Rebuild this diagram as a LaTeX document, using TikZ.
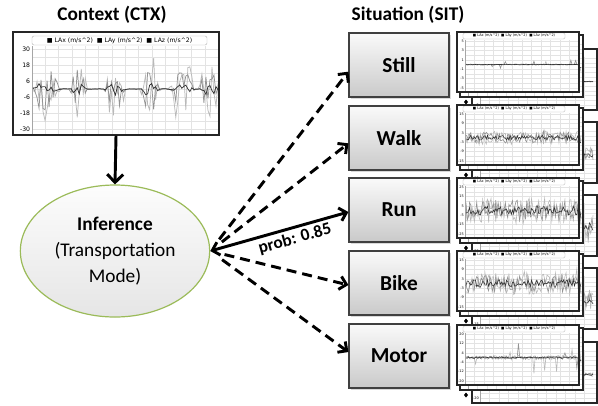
\documentclass[tikz,border=0pt]{standalone}
\usepackage{fontspec}
\setmainfont{Carlito}
\newfontfamily\chartfont{DejaVu Sans}
\usetikzlibrary{arrows.meta,shapes.geometric,shadows}
\definecolor{olivegreen}{HTML}{9BBB59}

\newcommand\minichart[8]{%
 \begin{scope}[shift={(#1,#2)}]
  \fill[white] (0,0) rectangle (#3,#4);
  \foreach \gx in {8,17.5,...,120} \draw[gridline] (\gx,8) -- (\gx,#4-1);
  \foreach \gy in {9,13.7,...,57} \draw[gridline] (8,\gy) -- (#3,\gy);
  \draw[gray!70,line width=0.25pt] (8,8) -- (8,#4-1);
  \draw[gray!60,line width=0.25pt,rounded corners=1pt,fill=white] (6,1) rectangle (108,7);
  \node[font=\chartfont\fontsize{2.6}{3}\selectfont,inner sep=0] at (57,4)
   {■ LAx (m/s\textasciicircum{}2)\ \ ■ LAy (m/s\textasciicircum{}2)\ \ ■ LAz (m/s\textasciicircum{}2)};
  \foreach \lab [count=\i from 0] in {#5}
   \node[anchor=east,inner sep=0.3pt,font=\chartfont\fontsize{2.6}{3}\selectfont] at (7.5,{9+9.4*\i}) {\lab};
  \begin{scope}
   \clip (8.3,8) rectangle (#3,#4-1);
   \pgfmathsetseed{#8}
   \draw[gray!55,line width=0.45pt] plot[domain=9:121,samples=95] (\x,{32.5+#6*rand+#7*(rnd<0.05)*rand});
   \draw[gray!85,line width=0.45pt] plot[domain=9:121,samples=95] (\x,{32.5+0.8*#6*rand+#7*(rnd<0.04)*rand});
   \draw[black!80,line width=0.45pt] plot[domain=9:121,samples=95] (\x,{32.5+0.35*#6*rand});
  \end{scope}
  \draw[black!85,line width=0.9pt] (0,0) rectangle (#3,#4);
 \end{scope}}

\newcommand\chartstack[6]{%
 \minichart{472}{#1+17}{125}{61}{#2}{#3}{#4}{#5}
 \minichart{460}{#1+3}{123}{62}{#2}{#3}{#4}{#5+7}
 \fill (466,#1+67.5) -- (468,#1+70) -- (466,#1+72.5) -- (464,#1+70) -- cycle;
 \minichart{457}{#1}{122}{60}{#2}{#3}{#4}{#6}}

\begin{document}
\begin{tikzpicture}[x=0.75pt,y=-0.75pt,
 declare function={bu(\u,\c,\w)=min(1,1.8*max(0,1-abs(\u-\c)/\w));
  env(\u)=bu(\u,46,14)+bu(\u,78,9)+bu(\u,115,11)+bu(\u,150,10)+bu(\u,182,13)+bu(\u,209,10);},
 gridline/.style={gray!22,line width=0.3pt},
 title/.style={font=\bfseries\fontsize{14.5}{17}\selectfont,inner sep=0},
 sitbox/.style={rectangle,draw=black!75,line width=0.9pt,top color=gray!4,bottom color=gray!42,
  minimum width=75pt,minimum height=48pt,font=\bfseries\fontsize{16}{18}\selectfont,
  drop shadow={shadow xshift=1.2pt,shadow yshift=-1.2pt,opacity=0.3}},
 arr/.style={line width=2.2pt,-{Straight Barb[length=5pt,width=10pt]}},
 darr/.style={arr,dash pattern=on 7.5pt off 4.5pt,shorten <=11pt},
 biarr/.style={line width=2.2pt,{Straight Barb[length=5pt,width=10pt]}-{Straight Barb[length=5pt,width=10pt]}}]
\useasboundingbox (0,0) rectangle (598,405);

% titles
\node[title] (ctxt) at (112,15) {Context (CTX)};
\node[title] (sitt) at (408,15) {Situation (SIT)};

% context chart
\fill[white] (13,32) rectangle (219,135);
\foreach \gx in {32,45.3,...,219} \draw[gridline] (\gx,46) -- (\gx,134);
\foreach \gy in {49,57,...,129} \draw[gridline] (32,\gy) -- (219,\gy);
\draw[gray!70,line width=0.3pt] (32,46) -- (32,134);
\draw[gray!60,line width=0.3pt,rounded corners=1.5pt] (32,36) rectangle (207,45);
\node[font=\chartfont\fontsize{4.6}{5}\selectfont,inner sep=0] (leg) at (119.5,40.5)
 {■ LAx (m/s\textasciicircum{}2)\ \ ■ LAy (m/s\textasciicircum{}2)\ \ ■ LAz (m/s\textasciicircum{}2)};
\foreach \lab [count=\i from 0] in {30,18,6,-6,-18,-30}
 \node[anchor=east,inner sep=0.5pt,font=\chartfont\fontsize{4.6}{5}\selectfont] at (31,{49+16*\i}) {\lab};
\begin{scope}
 \clip (32.3,46) rectangle (219,134);
 \pgfmathsetseed{11}
 \draw[gray!55,line width=0.55pt] plot[domain=33:218,samples=93] (\x,{89+env(\x)*32*rand+0.4*rand});
 \draw[gray!85,line width=0.55pt] plot[domain=33:218,samples=93] (\x,{89+env(\x)*22*rand+0.4*rand});
 \draw[black!80,line width=0.55pt] plot[domain=33:218,samples=93] (\x,{89+env(\x)*6*rand+0.3*rand});
\end{scope}
\node[draw=black!85,line width=1pt,minimum width=154.5pt,minimum height=77.25pt,inner sep=0] (ctx) at (116,83.5) {};

% inference ellipse
\node[ellipse,draw=olivegreen,line width=0.9pt,top color=gray!2,bottom color=gray!20,
 minimum width=142pt,minimum height=99pt,align=center,inner sep=0,
 font=\fontsize{14.5}{19.5}\selectfont] (inf) at (115,251)
 {\textbf{Inference}\\(Transportation\\Mode)};

\draw[arr,-{Straight Barb[length=6pt,width=12pt]}] (ctx.south) -- (inf.north);

% situation boxes
\node[sitbox] (still) at (399,65) {Still};
\node[sitbox] (walk) at (399,138) {Walk};
\node[sitbox] (run) at (399,210) {Run};
\node[sitbox] (bike) at (399,283) {Bike};
\node[sitbox] (motor) at (399,356) {Motor};

% chart stacks
\chartstack{32}{5,3,1,-1,-3,-5}{0.7}{4}{21}{5}
\chartstack{105}{15,9,3,-3,-9,-15}{7}{5}{22}{6}
\chartstack{178}{25,15,5,-5,-15,-25}{13}{5}{23}{7}
\chartstack{251}{15,9,3,-3,-9,-15}{11}{7}{24}{8}
\chartstack{325}{20,12,4,-4,-12,-20}{2.2}{16}{25}{9}

% arrows
\draw[darr] (inf.east) -- ([yshift=-5pt]still.west);
\draw[darr] (inf.east) -- ([yshift=-4pt]walk.west);
\draw[biarr] (inf.east) -- node[pos=0.59,sloped,below=2pt,font=\bfseries\fontsize{13}{15}\selectfont,inner sep=0] (prob) {prob: 0.85} ([yshift=-1.5pt]run.west);
\draw[darr] (inf.east) -- ([yshift=-1.5pt]bike.west);
\draw[darr] (inf.east) -- ([yshift=3pt]motor.west);
\end{tikzpicture}
\end{document}
